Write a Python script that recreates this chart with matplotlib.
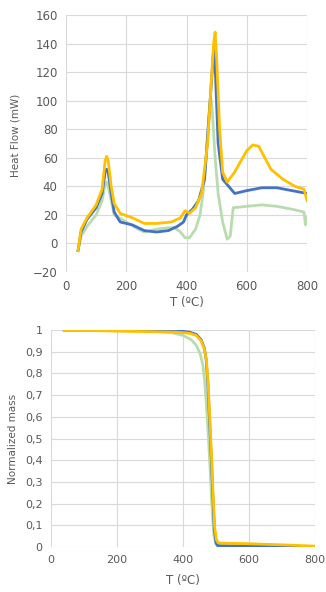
import numpy as np
import matplotlib
matplotlib.use('Agg')
import matplotlib.pyplot as plt
from matplotlib.ticker import FuncFormatter

# DSC heat flow curves
t_yel = [40, 50, 70, 100, 120, 130, 135, 140, 150, 160, 180, 220, 260, 300, 350, 380, 395, 410, 430, 450,
         470, 480, 490, 495, 500, 510, 520, 535, 560, 600, 620, 640, 660, 680, 720, 760, 790, 800]
hf_yel = [-5, 10, 18, 27, 38, 58, 61, 58, 40, 28, 21, 18, 14, 14, 15, 18, 23, 21, 25, 35,
          70, 105, 140, 148, 130, 80, 50, 43, 50, 65, 69, 68, 60, 52, 45, 40, 38, 30]

t_blue = [40, 50, 70, 100, 120, 130, 135, 140, 150, 160, 180, 220, 260, 300, 340, 370, 390, 400, 420, 440,
          460, 475, 485, 490, 495, 505, 520, 540, 560, 600, 650, 700, 750, 800]
hf_blue = [-5, 8, 17, 25, 35, 50, 52, 50, 35, 22, 15, 13, 9, 8, 9, 12, 15, 20, 24, 30,
           45, 90, 120, 136, 125, 70, 45, 40, 35, 37, 39, 39, 37, 35]

t_grn = [40, 50, 70, 100, 120, 130, 135, 140, 150, 160, 200, 240, 260, 300, 340, 360, 380, 395, 410, 430,
         445, 455, 465, 475, 480, 485, 495, 505, 520, 535, 545, 555, 600, 650, 700, 750, 790, 795, 800]
hf_grn = [-5, 5, 12, 20, 30, 42, 43, 40, 30, 20, 15, 10, 8, 10, 11, 11, 8, 4, 4, 10,
          20, 35, 60, 90, 103, 95, 60, 35, 15, 3, 5, 25, 26, 27, 26, 24, 22, 13, 18]

# TGA normalized mass
tg_blue_t = [40, 300, 380, 420, 440, 455, 465, 470, 475, 480, 486, 490, 495, 500, 505, 600, 800]
tg_blue_m = [1.0, 1.0, 0.997, 0.99, 0.98, 0.955, 0.915, 0.865, 0.76, 0.6, 0.4, 0.25, 0.08, 0.02, 0.006, 0.004, 0.0]

tg_yel_t = [40, 200, 380, 420, 440, 455, 465, 471, 476, 481, 487, 491, 496, 501, 506, 515, 600, 700, 800]
tg_yel_m = [1.0, 0.995, 0.99, 0.985, 0.975, 0.95, 0.91, 0.86, 0.76, 0.6, 0.4, 0.25, 0.09, 0.035, 0.02, 0.018, 0.015, 0.01, 0.004]

tg_grn_t = [40, 300, 360, 400, 425, 440, 452, 460, 466, 472, 478, 484, 489, 494, 500, 510, 600, 800]
tg_grn_m = [1.0, 0.995, 0.99, 0.975, 0.955, 0.93, 0.89, 0.84, 0.76, 0.63, 0.48, 0.3, 0.15, 0.05, 0.012, 0.004, 0.002, 0.0]

c_blue = '#4472c4'
c_yel = '#ffc000'
c_grn = '#b9dcae'
grid_c = '#d9d9d9'
txt_c = '#595959'

fig = plt.figure(figsize=(3.26, 5.92), dpi=100)
W, H = 326, 592

def style(ax, fs):
    for s in ax.spines.values():
        s.set_visible(False)
    ax.grid(True, color=grid_c, linewidth=0.8)
    ax.set_axisbelow(True)
    ax.tick_params(length=0, labelsize=fs, colors=txt_c, pad=6)

# top: heat flow
ax1 = fig.add_axes([66 / W, 1 - 272 / H, (307 - 66) / W, (272 - 15) / H])
style(ax1, 8.5)
ax1.plot(t_grn, hf_grn, color=c_grn, lw=2)
ax1.plot(t_blue, hf_blue, color=c_blue, lw=2)
ax1.plot(t_yel, hf_yel, color=c_yel, lw=2)
ax1.set_xlim(0, 800)
ax1.set_ylim(-20, 160)
ax1.set_xticks([0, 200, 400, 600, 800])
ax1.set_yticks(range(-20, 161, 20))
ax1.set_xlabel('T (ºC)', fontsize=8.5, color=txt_c, labelpad=2)
ax1.set_ylabel('Heat Flow (mW)', fontsize=7.5, color=txt_c)
ax1.yaxis.set_label_coords(-0.19, 0.53)

# bottom: TGA
ax2 = fig.add_axes([51 / W, 1 - 547 / H, (315 - 51) / W, (547 - 330) / H])
style(ax2, 8)
ax2.plot(tg_grn_t, tg_grn_m, color=c_grn, lw=2)
ax2.plot(tg_blue_t, tg_blue_m, color=c_blue, lw=2)
ax2.plot(tg_yel_t, tg_yel_m, color=c_yel, lw=2)
ax2.set_xlim(0, 800)
ax2.set_ylim(0, 1)
ax2.set_xticks([0, 200, 400, 600, 800])
ax2.set_yticks(np.arange(0, 1.01, 0.1))
ax2.yaxis.set_major_formatter(FuncFormatter(lambda v, p: ('%g' % round(v, 1)).replace('.', ',')))
ax2.set_xlabel('T (ºC)', fontsize=8.5, color=txt_c, labelpad=6)
ax2.set_ylabel('Normalized mass', fontsize=7.5, color=txt_c, labelpad=5)

fig.savefig('out.png', dpi=100)
